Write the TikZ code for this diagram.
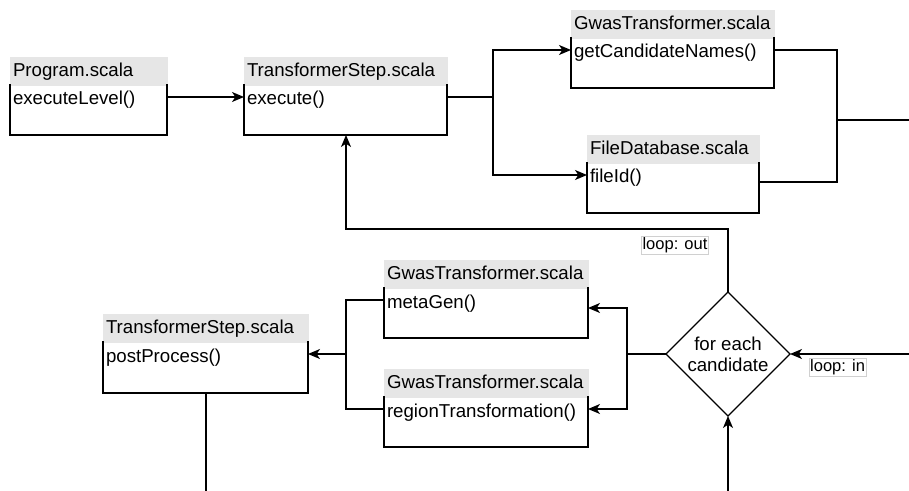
\documentclass[tikz,border=0pt]{standalone}
\usepackage{fontspec}
\setmainfont{Liberation Sans}
\usetikzlibrary{arrows.meta,shapes.geometric,calc}

\definecolor{hdrgray}{HTML}{E6E6E6}
\definecolor{lblgray}{HTML}{D0D0D0}

% class box: name, left x, top y, width, header height, body height, title, method
\newcommand{\umlbox}[8]{%
  \pgfmathsetmacro\boxtw{(#4-6)*0.75}%
  \node[hdr, text width=\boxtw pt, minimum height=#5*0.75pt] (#1-h) at (#2,#3) {#7};
  \node[row, text width=\boxtw pt] (#1) at (#1-h.south west) {#8};
  \draw[frame] (#1-h.south west) -- ++(0,#6) -| (#1-h.south east);
}

\begin{document}
\begin{tikzpicture}[x=0.75pt,y=-0.75pt,
  every node/.style={font=\fontsize{14}{16}\selectfont, outer sep=0pt},
  hdr/.style={anchor=north west, fill=hdrgray, draw=hdrgray, line width=0.6pt,
    inner xsep=2.25pt, inner ysep=0pt, align=left, text height=11pt, text depth=2.5pt},
  row/.style={anchor=north west, inner xsep=2.25pt, inner ysep=0pt,
    minimum height=18pt, align=left, text height=15pt, text depth=3pt},
  frame/.style={line width=1pt, line cap=rect},
  link/.style={line width=1pt},
  arr/.style={link, -{Stealth[length=9pt,width=7.5pt,inset=2.5pt]}},
  lbl/.style={draw=lblgray, fill=white, line width=0.5pt, inner sep=1pt,
    font=\fontsize{12.4}{14}\selectfont},
  decision/.style={diamond, draw, line width=1pt, shape aspect=1, inner sep=0pt,
    minimum width=93pt, minimum height=93pt, align=center}
]
\useasboundingbox (0,0) rectangle (909,491);

% class boxes
\umlbox{prog}{10}{57}{157}{28}{50}{Program.scala}{executeLevel()}
\umlbox{ts}{244}{57}{203}{28}{50}{TransformerStep.scala}{execute()}
\umlbox{gt}{571}{10}{203}{28}{50}{GwasTransformer.scala}{getCandidateNames()}
\umlbox{fd}{587}{135}{172}{28}{50}{FileDatabase.scala}{fileId()}
\umlbox{mg}{384}{260}{204}{28}{50}{GwasTransformer.scala}{metaGen()}
\umlbox{rt}{384}{369}{204}{28}{50}{GwasTransformer.scala}{regionTransformation()}
\umlbox{pp}{103}{314}{205}{28}{51}{TransformerStep.scala}{postProcess()}

% loop decision
\node[decision] (loop) at (728,354) {for each\\candidate};

% helper points
\coordinate (fork) at (493,97);
\coordinate (merge) at (837,120);
\coordinate (exitR) at (909,120);
\coordinate (tsBottom) at (346,135);
\coordinate (loopTop) at (346,229);
\coordinate (inRight) at (909,354);
\coordinate (inBottom) at (728,491);
\coordinate (split) at (627,354);
\coordinate (join) at (346,354);
\coordinate (ppBottom) at (206,393);
\coordinate (ppOut) at (206,491);

% top row
\draw[arr] (prog.east) -- (ts.west);
\draw[link] (ts.east) -- (fork);
\draw[arr] (fork) |- (gt.west);
\draw[arr] (fork) |- (fd.west);
\draw[link] (gt.east) -| (merge);
\draw[link] ($(fd.east)+(0,7)$) -| (merge);
\draw[link] (merge) -- (exitR);

% loop
\draw[arr] (inRight) -- (loop.east)
  node[lbl, pos=0.6, anchor=north, yshift=-3pt] (lin) {loop: in};
\draw[arr] (inBottom) -- (loop.south);
\draw[arr] (loop.north) |- (loopTop) -- (tsBottom);
\node[lbl] (lout) at (675,245) {loop: out};

% per-candidate steps
\draw[link] (loop.west) -- (split);
\draw[arr] (split) |- ($(mg.east)+(0,8)$);
\draw[arr] (split) |- (rt.east);
\draw[link] (mg.west) -| (join);
\draw[link] (rt.west) -| (join);
\draw[arr] (join) -- (pp.east);
\draw[link] (ppBottom) -- (ppOut);
\end{tikzpicture}
\end{document}
